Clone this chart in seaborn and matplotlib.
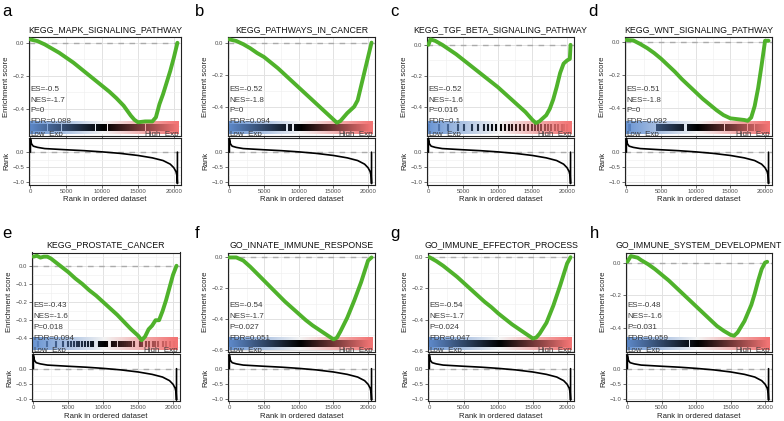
import numpy as np
import matplotlib
matplotlib.use("Agg")
import matplotlib.pyplot as plt
import seaborn as sns
from matplotlib.colors import LinearSegmentedColormap
from matplotlib.ticker import MultipleLocator, FixedLocator

sns.set_theme(style="white")
plt.rcParams['font.family'] = ['Liberation Sans', 'DejaVu Sans']

N_GENES = 20500

letters = ['a', 'b', 'c', 'd', 'e', 'f', 'g', 'h']
titles = ['KEGG_MAPK_SIGNALING_PATHWAY', 'KEGG_PATHWAYS_IN_CANCER',
          'KEGG_TGF_BETA_SIGNALING_PATHWAY', 'KEGG_WNT_SIGNALING_PATHWAY',
          'KEGG_PROSTATE_CANCER', 'GO_INNATE_IMMUNE_RESPONSE',
          'GO_IMMUNE_EFFECTOR_PROCESS', 'GO_IMMUNE_SYSTEM_DEVELOPMENT']
es_text = ['-0.5', '-0.52', '-0.52', '-0.51', '-0.43', '-0.54', '-0.54', '-0.48']
nes_text = ['-1.7', '-1.8', '-1.6', '-1.8', '-1.6', '-1.7', '-1.7', '-1.6']
p_text = ['0', '0', '0.016', '0', '0.018', '0.027', '0.024', '0.031']
fdr_text = ['0.088', '0.094', '0.1', '0.092', '0.094', '0.051', '0.047', '0.059']

# running enrichment score curves (rank, score)
es_x_a = [0, 1000, 2000, 3000, 4000, 5000, 6000, 7000, 8000, 9000, 10000, 11000, 12000,
          13000, 14000, 14500, 15000, 16000, 17000, 17500, 18000, 18500, 19000, 19500, 20000, 20500]
es_y_a = [0.02, 0.01, -0.01, -0.035, -0.06, -0.09, -0.12, -0.155, -0.19, -0.225, -0.26, -0.295,
          -0.335, -0.38, -0.44, -0.465, -0.48, -0.475, -0.475, -0.45, -0.37, -0.31, -0.24, -0.17,
          -0.09, 0.0]

es_x_b = [0, 1000, 2000, 3000, 4000, 5000, 6000, 7000, 8000, 9000, 10000, 11000, 12000,
          13000, 14000, 15000, 15500, 16000, 17000, 18000, 18500, 19000, 19500, 20000, 20500]
es_y_b = [0.02, 0.01, -0.01, -0.035, -0.065, -0.09, -0.125, -0.16, -0.2, -0.24, -0.28, -0.32,
          -0.36, -0.4, -0.44, -0.48, -0.5, -0.49, -0.44, -0.4, -0.36, -0.27, -0.18, -0.09, 0.0]

es_x_c = [0, 300, 1000, 2000, 3000, 4000, 5000, 6000, 7000, 8000, 9000, 10000, 11000, 12000,
          13000, 14000, 15000, 15500, 16000, 17000, 17500, 18000, 18500, 19000, 19500, 20000,
          20400, 20500]
es_y_c = [0.0, 0.035, 0.025, 0.0, -0.03, -0.06, -0.095, -0.13, -0.165, -0.2, -0.235, -0.27,
          -0.31, -0.35, -0.39, -0.43, -0.48, -0.5, -0.49, -0.45, -0.41, -0.35, -0.27, -0.18,
          -0.12, -0.1, -0.09, 0.0]

es_x_d = [0, 1000, 2000, 3000, 4000, 5000, 6000, 7000, 8000, 9000, 10000, 11000, 12000,
          13000, 14000, 15000, 16000, 17000, 17500, 18000, 18500, 19000, 19500, 20000, 20500]
es_y_d = [0.015, 0.012, -0.01, -0.035, -0.065, -0.1, -0.14, -0.18, -0.225, -0.265, -0.305,
          -0.345, -0.38, -0.415, -0.445, -0.465, -0.47, -0.475, -0.48, -0.46, -0.39, -0.28,
          -0.14, 0.01, 0.01]

es_x_e = [0, 500, 1000, 1500, 2000, 2500, 3000, 4000, 5000, 6000, 7000, 8000, 9000, 10000,
          11000, 12000, 13000, 14000, 15000, 15500, 16000, 16500, 17000, 17500, 18000, 18500,
          19000, 19500, 20000, 20500]
es_y_e = [0.05, 0.055, 0.045, 0.05, 0.05, 0.04, 0.025, -0.005, -0.035, -0.07, -0.1, -0.135,
          -0.165, -0.2, -0.235, -0.27, -0.31, -0.35, -0.385, -0.41, -0.39, -0.35, -0.33, -0.3,
          -0.3, -0.25, -0.19, -0.12, -0.05, 0.0]

es_x_f = [0, 1000, 2000, 3000, 4000, 5000, 6000, 7000, 8000, 9000, 10000, 11000, 12000,
          13000, 14000, 15000, 15500, 16000, 17000, 18000, 19000, 19500, 20000, 20500]
es_y_f = [0.0, 0.0, -0.02, -0.06, -0.105, -0.15, -0.195, -0.24, -0.285, -0.325, -0.365, -0.405,
          -0.44, -0.47, -0.5, -0.53, -0.52, -0.48, -0.39, -0.28, -0.16, -0.09, -0.02, 0.0]

es_x_g = [0, 1000, 2000, 3000, 4000, 5000, 6000, 7000, 8000, 9000, 10000, 11000, 12000,
          13000, 14000, 15000, 15500, 16000, 17000, 18000, 19000, 19500, 20000, 20500]
es_y_g = [0.0, -0.025, -0.055, -0.09, -0.125, -0.165, -0.205, -0.245, -0.285, -0.32, -0.36,
          -0.395, -0.43, -0.46, -0.49, -0.52, -0.515, -0.49, -0.42, -0.31, -0.18, -0.11, -0.04,
          0.0]

es_x_h = [0, 500, 1000, 1500, 2000, 3000, 4000, 5000, 6000, 7000, 8000, 9000, 10000, 11000,
          12000, 13000, 14000, 15000, 15500, 16000, 17000, 18000, 18500, 19000, 19500, 20000,
          20300]
es_y_h = [0.005, 0.04, 0.035, 0.03, 0.015, -0.01, -0.04, -0.075, -0.11, -0.15, -0.19, -0.23,
          -0.27, -0.31, -0.35, -0.39, -0.42, -0.445, -0.45, -0.43, -0.36, -0.26, -0.19, -0.11,
          -0.04, 0.0, 0.005]

es_xs = [es_x_a, es_x_b, es_x_c, es_x_d, es_x_e, es_x_f, es_x_g, es_x_h]
es_ys = [es_y_a, es_y_b, es_y_c, es_y_d, es_y_e, es_y_f, es_y_g, es_y_h]

# ranked list metric (same ranked list in every panel)
rank_x = [0, 0, 150, 400, 1000, 2000, 3500, 5000, 7500, 10000, 12500, 15000, 17000, 18500,
          19500, 20000, 20300, 20450, 20500, 20500]
rank_y = [0.0, 0.45, 0.28, 0.2, 0.16, 0.12, 0.1, 0.08, 0.05, 0.01, -0.04, -0.11, -0.19, -0.28,
          -0.4, -0.52, -0.65, -0.8, -1.05, 0.0]

# gene-set hit positions: blocks (start, end) for dense sets, single ranks for sparse sets
hits_a = [(0, 2350), (2500, 4250), (4400, 9000), (9150, 10650), (10850, 15950), (16100, 20500)]
hits_b = [(0, 8100), (8400, 8900), (9300, 20500)]
hits_c = [60, 1500, 2800, 4200, 5200, 6300, 7200, 8000, 8600, 9200, 9800, 10400, 11000, 11600,
          12100, 12600, 13200, 13800, 14400, 15000, 15400, 15800, 16300, 16800, 17300, 17700,
          18200, 18700, 19200, 19600, 20000, 20450]
hits_d = [(300, 700), (4200, 8200), (8700, 14000), (14200, 15800), (16000, 17400),
          (17600, 18400), (18600, 20500)]
hits_e = [600, 2000, 3200, 4300, 5000, 5400, 5800, 6200, 6600, 7000, 7400, 7800, 8200, 8600,
          9400, 9700, 10000, 10300, 10600, 11300, 11600, 11900, 12200, 12500, 12800, 13100,
          13400, 13700, 14000, 14400, 15200, 15600, 16100, 16600, 17100, 17400, 17900, 18500,
          19000, 19600, 20200]
hits_f = [(0, 20500)]
hits_g = [(0, 20500)]
hits_h = [(0, 9000), (9150, 20500)]
hits_all = [hits_a, hits_b, hits_c, hits_d, hits_e, hits_f, hits_g, hits_h]

es_ylims = [(-0.56, 0.035), (-0.58, 0.035), (-0.58, 0.05), (-0.57, 0.033),
            (-0.475, 0.073), (-0.612, 0.032), (-0.607, 0.03), (-0.55, 0.062)]
es_major = [0.2, 0.2, 0.2, 0.2, 0.1, 0.2, 0.2, 0.2]
rank_ylim = (-1.08, 0.49)
xlim = (-200, 21000)

# ---------------- styling ----------------
W, H = 784, 421
GREEN = '#4FB22B'
TXT = '#3A3A3A'
TICKC = '#4D4D4D'
bg_cmap = LinearSegmentedColormap.from_list('bg', ['#6B96D4', '#F3F3F3', '#F27474'])
hit_cmap = LinearSegmentedColormap.from_list('hit', ['#5D88C8', '#000000', '#F27474'])

top_lefts = [29, 228, 427, 625]
top_rights = [181, 375, 574, 772]
bot_lefts = [32, 228, 428, 626]
bot_rights = [180, 375, 574, 772]
rows = [dict(es=(37, 135.5), rk=(137.5, 184.5), base=16),
        dict(es=(252.5, 352), rk=(354, 401), base=238)]
letter_x = [2, 195, 390, 588, 2, 195, 390, 590]

fig = plt.figure(figsize=(W / 100, H / 100), dpi=100)
fig.patch.set_facecolor('white')


def rect(l, r, t, b):
    return [l / W, 1 - b / H, (r - l) / W, (b - t) / H]


def style_axes(ax):
    ax.set_facecolor('white')
    for s in ax.spines.values():
        s.set_color('#222222')
        s.set_linewidth(0.8)
        s.set_visible(True)
    ax.grid(which='major', color='#E2E2E2', lw=0.7)
    ax.grid(which='minor', color='#F0F0F0', lw=0.45)
    ax.set_axisbelow(True)
    ax.tick_params(which='major', length=2, width=0.5, color='#333333',
                   labelsize=4.3, labelcolor=TICKC, pad=1.2, left=True, bottom=True)
    ax.tick_params(which='minor', length=0)
    ax.xaxis.set_major_locator(FixedLocator([0, 5000, 10000, 15000, 20000]))
    ax.xaxis.set_minor_locator(FixedLocator([2500, 7500, 12500, 17500]))
    ax.set_xlim(*xlim)


for i in range(8):
    row = rows[i // 4]
    col = i % 4
    if i < 4:
        l, r = top_lefts[col], top_rights[col]
    else:
        l, r = bot_lefts[col], bot_rights[col]
    ax = fig.add_axes(rect(l, r, *row['es']))
    axr = fig.add_axes(rect(l, r, *row['rk']))
    lo, hi = es_ylims[i]
    span = hi - lo

    # enrichment score panel
    style_axes(ax)
    ax.axhline(0, color='#ABABAB', lw=1.0, ls=(0, (4, 4)), zorder=1)
    by0, by1 = lo + 0.02 * span, lo + 0.148 * span
    hy0, hy1 = lo + 0.048 * span, lo + 0.112 * span
    grad = np.linspace(-150 / N_GENES, 20750 / N_GENES, 200).reshape(1, -1)
    ax.imshow(grad, cmap=bg_cmap, vmin=0, vmax=1, extent=(-150, 20750, by0, by1),
              aspect='auto', interpolation='bilinear', zorder=2)
    hits = hits_all[i]
    if isinstance(hits[0], tuple):
        for (s0, s1) in hits:
            seg = np.linspace(s0 / N_GENES, s1 / N_GENES, 80).reshape(1, -1)
            ax.imshow(seg, cmap=hit_cmap, vmin=0, vmax=1, extent=(s0, s1, hy0, hy1),
                      aspect='auto', interpolation='bilinear', zorder=2.5)
    else:
        cols = [hit_cmap(p / N_GENES) for p in hits]
        ax.vlines(hits, hy0, hy1, colors=cols, lw=1.5, zorder=2.5)
    sns.lineplot(x=es_xs[i], y=es_ys[i], ax=ax, color=GREEN, lw=2.8, sort=False,
                 estimator=None, zorder=4)
    ax.set_xlim(*xlim)
    ax.set_ylim(lo, hi)
    ax.yaxis.set_major_locator(MultipleLocator(es_major[i]))
    ax.yaxis.set_minor_locator(MultipleLocator(es_major[i] / 2))
    ax.tick_params(axis='x', labelbottom=False)
    ax.set_xlabel('')
    ax.set_ylabel('Enrichment score', fontsize=5.6, color='#222222', labelpad=2)
    ax.set_title(titles[i], fontsize=6.3, color='#111111', pad=3.5)
    tr = ax.get_xaxis_transform()
    for frac, s in zip([0.47, 0.36, 0.25, 0.14],
                       ['ES=' + es_text[i], 'NES=' + nes_text[i], 'P=' + p_text[i],
                        'FDR=' + fdr_text[i]]):
        ax.text(0, frac, s, transform=tr, fontsize=5.8, color=TXT, ha='left', va='center',
                zorder=5)
    ax.text(0, 0.0, 'Low_Exp', transform=tr, fontsize=5.8, color=TXT, ha='left',
            va='baseline', zorder=5, clip_on=True)
    ax.text(20700, 0.0, 'High_Exp', transform=tr, fontsize=5.8, color=TXT, ha='right',
            va='baseline', zorder=5, clip_on=True)

    # ranked list panel
    style_axes(axr)
    axr.axhline(0, color='#ABABAB', lw=1.0, ls=(0, (4, 4)), zorder=1)
    sns.lineplot(x=rank_x, y=rank_y, ax=axr, color='black', lw=1.2, sort=False,
                 estimator=None, zorder=3)
    axr.set_xlim(*xlim)
    axr.set_ylim(*rank_ylim)
    axr.yaxis.set_major_locator(FixedLocator([0.0, -0.5, -1.0]))
    axr.yaxis.set_minor_locator(FixedLocator([0.25, -0.25, -0.75]))
    axr.set_xticklabels(['0', '5000', '10000', '15000', '20000'])
    axr.set_ylabel('Rank', fontsize=5.6, color='#222222', labelpad=2)
    axr.set_xlabel('Rank in ordered dataset', fontsize=5.6, color='#222222', labelpad=1.5)

    fig.text(letter_x[i] / W, 1 - row['base'] / H, letters[i], fontsize=12, color='black',
             ha='left', va='baseline')

fig.savefig('out.png', dpi=100, facecolor='white')
